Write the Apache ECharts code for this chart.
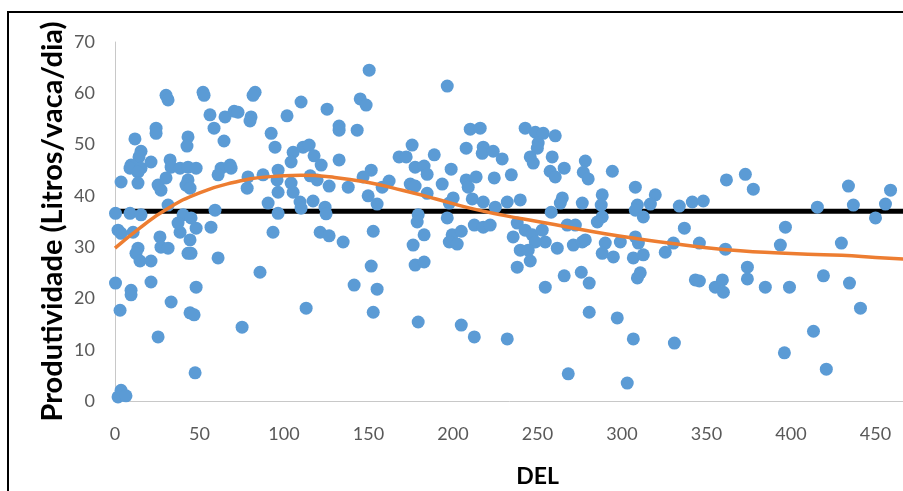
<!DOCTYPE html>
<html>
<head>
<meta charset="utf-8">
<script src="https://cdn.jsdelivr.net/npm/echarts@6/dist/echarts.min.js"></script>
<style>
  html, body { margin: 0; padding: 0; background: #fff; }
  #chart { width: 903px; height: 491px; }
</style>
</head>
<body>
<div id="chart"></div>
<script>
// DEL (dias em lactação) de cada vaca
const del = [
  30.2, 31.4, 52.1, 52.7, 82.9, 81.7, 110.1, 56.2, 65.1, 70.5, 72.8, 80.5, 79.9, 101.8, 24.3, 24.3, 58.6, 11.8, 43.2, 42.6,
  64.5, 92.4, 94.7, 15.4, 14.2, 105.4, 9.5, 8.9, 15.4, 13.6, 21.3, 32.6, 33.2, 38.5, 43.2, 48.0, 62.8, 68.1, 68.7, 61.0,
  104.2, 3.6, 13.6, 25.5, 27.2, 30.2, 43.2, 42.0, 44.4, 78.7, 78.2, 87.6, 96.5, 95.9, 96.5, 104.2, 105.4, 90.6, 96.5, 109.5,
  110.1, 0.3, 8.9, 15.4, 31.4, 40.3, 45.0, 59.2, 1.8, 3.6, 10.7, 26.6, 27.2, 31.4, 13.6, 12.4, 14.8, 21.3, 38.5, 44.4,
  48.0, 37.3, 43.2, 45.0, 56.8, 61.0, 93.5, 0.3, 21.3, 9.5, 9.5, 48.0, 85.8, 3.0, 33.2, 44.4, 46.8, 25.5, 75.2, 47.4,
  113.1, 1.8, 4.7, 3.6, 6.5, 150.4, 196.6, 125.5, 145.1, 148.6, 132.6, 132.6, 143.3, 210.2, 216.1, 111.3, 114.9, 117.8, 122.0, 132.6,
  175.8, 168.1, 172.3, 188.9, 207.8, 217.9, 217.3, 223.8, 177.6, 182.9, 184.7, 198.9, 151.6, 146.8, 115.5, 119.6, 126.7, 138.0, 158.1, 162.2,
  174.7, 177.6, 193.6, 207.8, 209.0, 213.7, 224.4, 149.8, 184.7, 117.2, 155.1, 124.3, 124.9, 197.8, 200.1, 211.4, 217.9, 225.0, 179.4, 178.8,
  196.6, 121.4, 126.7, 135.0, 152.8, 182.9, 176.4, 199.5, 204.9, 197.8, 202.5, 212.6, 217.9, 222.0, 151.6, 177.6, 182.9, 141.5, 155.1, 152.8,
  179.4, 204.9, 212.6, 242.7, 248.7, 253.4, 260.5, 250.4, 249.9, 245.7, 247.5, 258.7, 229.1, 278.3, 257.5, 260.5, 265.8, 277.1, 280.0, 294.3,
  234.5, 307.9, 288.3, 319.7, 232.1, 239.8, 264.7, 263.5, 276.5, 287.7, 309.1, 307.9, 316.8, 333.9, 341.6, 258.1, 288.3, 285.4, 312.6, 238.0,
  235.6, 242.7, 246.9, 252.8, 254.6, 248.7, 239.8, 244.5, 245.7, 238.0, 261.7, 267.6, 272.4, 271.2, 276.5, 278.3, 290.1, 288.3, 294.9, 299.0,
  307.9, 309.7, 306.7, 312.6, 325.6, 330.4, 336.9, 343.4, 254.6, 265.8, 275.9, 280.6, 309.1, 310.8, 280.6, 297.2, 232.1, 306.7, 331.0, 268.2,
  303.1, 348.1, 361.8, 373.0, 377.7, 434.0, 436.9, 458.9, 455.9, 450.0, 415.6, 396.7, 393.7, 429.8, 345.8, 361.2, 345.8, 355.2, 359.4, 360.0,
  374.2, 374.2, 384.8, 399.1, 419.2, 434.6, 441.1, 413.3, 396.1, 420.9
];

// Produtividade (litros/vaca/dia), mesma ordem de del
const producao = [
  59.6, 58.7, 60.2, 59.6, 60.2, 59.6, 58.3, 55.8, 55.4, 56.5, 56.3, 55.4, 54.6, 55.6, 53.2, 52.2, 53.2, 51.1, 51.5, 49.7,
  50.7, 52.2, 49.5, 48.7, 47.6, 48.5, 46.0, 45.4, 45.4, 44.6, 46.6, 47.0, 45.6, 45.4, 45.6, 45.4, 45.4, 46.0, 45.4, 44.1,
  46.6, 42.7, 42.5, 42.1, 41.1, 43.5, 43.1, 42.1, 41.5, 43.7, 41.5, 44.1, 45.0, 43.1, 40.7, 42.5, 40.7, 38.6, 36.6, 38.8,
  37.6, 36.6, 36.6, 36.3, 38.2, 36.3, 35.7, 37.2, 33.3, 32.7, 32.9, 32.0, 30.0, 29.8, 29.8, 28.8, 27.3, 27.3, 32.9, 31.4,
  33.7, 34.7, 28.8, 28.8, 33.9, 27.9, 32.9, 23.0, 23.2, 21.6, 20.7, 22.2, 25.1, 17.7, 19.3, 17.2, 16.8, 12.5, 14.4, 5.5,
  18.1, 0.8, 1.2, 2.1, 1.0, 64.5, 61.4, 56.9, 58.9, 57.7, 53.6, 52.8, 52.8, 53.0, 53.2, 49.5, 49.9, 47.8, 46.0, 47.0,
  49.9, 47.6, 47.6, 48.0, 49.3, 49.5, 48.3, 48.7, 45.6, 45.8, 44.2, 45.2, 45.0, 43.7, 43.9, 43.1, 41.9, 41.7, 41.7, 42.9,
  42.3, 41.9, 42.3, 43.1, 41.7, 43.7, 43.5, 40.0, 40.5, 39.0, 38.4, 37.8, 36.5, 38.6, 39.6, 39.4, 38.8, 37.8, 36.3, 34.9,
  35.7, 32.9, 32.2, 31.0, 33.1, 32.4, 30.4, 32.4, 33.1, 31.0, 30.6, 34.3, 33.9, 34.3, 26.3, 26.5, 27.1, 22.6, 21.8, 17.3,
  15.4, 14.8, 12.5, 53.2, 52.4, 52.2, 51.7, 50.3, 49.3, 47.6, 46.4, 47.6, 47.2, 46.8, 44.8, 43.7, 45.4, 44.6, 43.3, 44.8,
  44.1, 41.7, 40.2, 40.2, 38.8, 39.2, 39.6, 38.6, 38.6, 38.2, 38.2, 37.2, 38.4, 38.0, 38.8, 36.8, 35.9, 34.9, 35.9, 34.7,
  32.0, 33.3, 32.4, 33.3, 31.0, 31.0, 29.4, 29.4, 27.3, 26.1, 29.8, 34.3, 34.3, 30.4, 31.0, 31.4, 30.8, 28.8, 28.1, 31.0,
  32.0, 30.8, 27.9, 28.5, 29.0, 30.8, 33.7, 23.6, 22.2, 24.4, 25.1, 23.0, 24.0, 25.0, 17.3, 16.2, 12.1, 12.1, 11.3, 5.3,
  3.5, 39.0, 43.1, 44.2, 41.3, 41.9, 38.2, 41.1, 38.4, 35.7, 37.8, 33.9, 30.4, 30.8, 30.8, 29.6, 23.4, 22.2, 23.6, 21.2,
  26.1, 23.8, 22.2, 22.2, 24.4, 23.0, 18.1, 13.6, 9.4, 6.2
];

// curva de tendência
const curvaDel = [0, 15, 30, 50, 70, 90, 110, 130, 150, 170, 190, 210, 230, 250, 270, 290, 310, 330, 350, 370, 390, 410, 430, 450, 470];
const curvaProd = [29.8, 33.8, 37.3, 40.6, 42.6, 43.7, 44.0, 43.6, 42.6, 41.1, 39.4, 37.6, 36.2, 35.0, 33.8, 32.6, 31.6, 30.7, 29.9, 29.3, 28.9, 28.6, 28.4, 28.0, 27.6];

// média do rebanho
const mediaDel = [0, 500];
const mediaProd = [37, 37];

const fonte = 'Lato, "Open Sans", sans-serif';

const chart = echarts.init(document.getElementById('chart'));

const options = {
  backgroundColor: '#fff',
  animation: false,
  grid: {
    left: 115,
    top: 42,
    bottom: 90,
    right: -57,
    outerBoundsMode: 'none'
  },
  graphic: [
    {
      type: 'rect',
      shape: { x: 8, y: 12, width: 1000, height: 1000 },
      style: { fill: 'none', stroke: '#000', lineWidth: 2 },
      silent: true
    }
  ],
  xAxis: {
    type: 'value',
    min: 0,
    max: 500,
    interval: 50,
    name: 'DEL',
    nameLocation: 'middle',
    nameGap: 64,
    nameMoveOverlap: false,
    nameTextStyle: { fontFamily: fonte, fontSize: 23, fontWeight: 'bold', color: '#000' },
    axisLine: { show: true, lineStyle: { color: '#c8c8c8', width: 1 } },
    axisTick: { show: false },
    splitLine: { show: false },
    axisLabel: { color: '#595959', fontFamily: fonte, fontSize: 18, margin: 24 }
  },
  yAxis: {
    type: 'value',
    min: 0,
    max: 70,
    interval: 10,
    name: 'Produtividade (Litros/vaca/dia)',
    nameLocation: 'middle',
    nameGap: 48,
    nameMoveOverlap: false,
    nameTextStyle: { fontFamily: fonte, fontSize: 29, fontWeight: 'bold', color: '#000' },
    axisLine: { show: true, lineStyle: { color: '#c8c8c8', width: 1 } },
    axisTick: { show: false },
    splitLine: { show: false },
    axisLabel: { color: '#595959', fontFamily: fonte, fontSize: 18, margin: 20 }
  },
  series: [
    {
      name: 'Média',
      type: 'line',
      data: mediaDel.map((d, i) => [d, mediaProd[i]]),
      symbol: 'none',
      lineStyle: { color: '#000', width: 5 },
      z: 1
    },
    {
      name: 'Vacas',
      type: 'scatter',
      data: del.map((d, i) => [d, producao[i]]),
      symbolSize: 13,
      itemStyle: { color: '#5b9bd5', opacity: 1 },
      z: 2
    },
    {
      name: 'Tendência',
      type: 'line',
      data: curvaDel.map((d, i) => [d, curvaProd[i]]),
      smooth: true,
      symbol: 'none',
      lineStyle: { color: '#ed7d31', width: 3.5 },
      z: 3
    }
  ]
};

chart.setOption(options);
</script>
</body>
</html>
